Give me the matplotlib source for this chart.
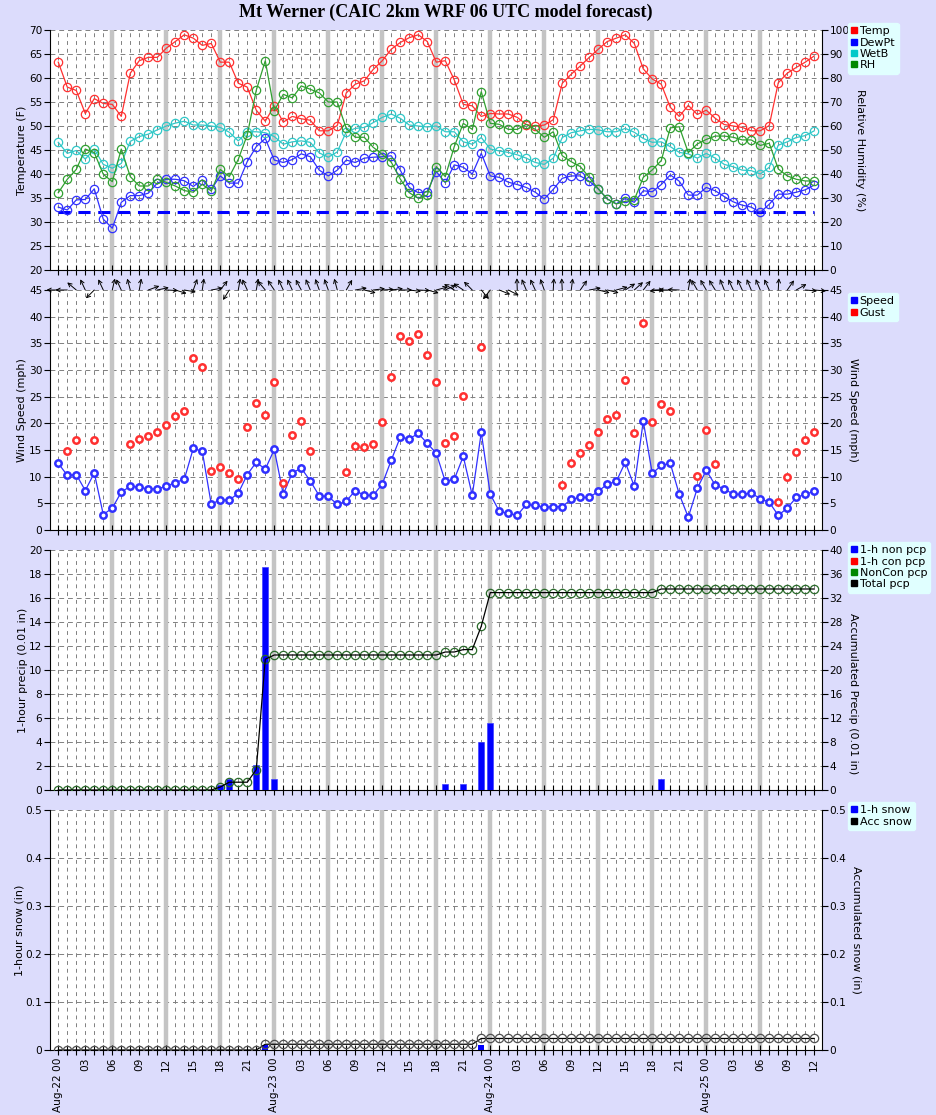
import matplotlib
matplotlib.use('Agg')
import matplotlib.pyplot as plt
from matplotlib.lines import Line2D
import numpy as np

plt.rcParams['font.family'] = ['DejaVu Sans']
plt.rcParams['font.size'] = 7.6

# forecast hours from Aug-22 00 UTC
hours = list(range(85))

temp = [63.3, 58.1, 57.4, 52.6, 55.7, 54.7, 54.5, 52.0, 61.0, 63.6,
        64.3, 64.3, 66.2, 67.6, 69.0, 68.3, 66.8, 67.2, 63.3, 63.3,
        58.9, 58.1, 53.3, 51.0, 54.2, 50.8, 52.0, 51.5, 51.2, 49.0,
        49.0, 50.1, 56.9, 58.7, 59.4, 61.8, 63.6, 66.0, 67.4, 68.4,
        69.0, 67.6, 63.3, 63.6, 59.6, 54.5, 54.2, 52.0, 52.6, 52.5,
        52.5, 51.8, 50.3, 50.0, 50.2, 51.3, 58.9, 60.8, 62.5, 64.3,
        66.0, 67.6, 68.3, 69.0, 67.2, 61.9, 59.8, 58.7, 53.9, 52.0,
        54.3, 52.4, 53.3, 51.6, 50.3, 50.0, 49.7, 49.0, 49.0, 50.1,
        59.0, 61.0, 62.2, 63.3, 64.6]
dewpt = [33.1, 32.5, 34.6, 34.7, 36.9, 30.6, 28.7, 34.1, 35.5, 35.5,
         36.0, 38.1, 38.9, 38.9, 38.6, 37.4, 38.8, 36.8, 39.6, 38.1,
         38.1, 42.6, 45.7, 47.4, 42.9, 42.4, 43.0, 44.2, 43.6, 40.8,
         39.6, 40.8, 42.9, 42.4, 43.3, 43.5, 43.6, 43.8, 40.8, 37.2,
         36.1, 36.3, 40.5, 38.2, 41.9, 41.4, 40.0, 44.3, 39.6, 39.3,
         38.3, 37.8, 37.2, 36.2, 34.8, 36.8, 39.1, 39.6, 39.6, 38.5,
         36.9, 34.8, 33.8, 34.9, 34.1, 36.5, 36.3, 37.8, 39.8, 38.5,
         35.6, 35.6, 37.2, 36.5, 35.3, 34.2, 33.5, 33.1, 32.0, 33.7,
         35.8, 35.8, 36.2, 36.7, 37.7]
wetb = [46.6, 44.3, 44.9, 43.1, 45.2, 42.0, 41.2, 42.2, 46.8, 47.8,
        48.3, 49.2, 50.0, 50.6, 51.0, 50.2, 50.2, 50.0, 49.7, 48.7,
        46.9, 48.8, 48.8, 48.6, 47.8, 46.2, 46.7, 46.9, 46.6, 44.4,
        43.5, 44.6, 48.8, 49.5, 49.7, 50.7, 51.8, 52.5, 51.6, 50.2,
        50.0, 49.8, 50.0, 48.8, 48.8, 46.7, 46.2, 47.6, 45.2, 44.8,
        44.5, 44.0, 43.3, 42.4, 42.0, 43.3, 47.6, 48.6, 49.0, 49.3,
        49.2, 48.8, 48.8, 49.5, 48.7, 47.4, 46.6, 46.7, 45.7, 44.5,
        44.2, 43.3, 44.3, 43.3, 42.0, 41.5, 40.8, 40.7, 40.0, 41.4,
        46.0, 46.7, 47.6, 48.0, 49.0]
rh = [32.2, 37.8, 41.9, 50.4, 48.9, 39.9, 36.8, 50.4, 38.9, 35.0,
      35.0, 37.9, 36.5, 35.0, 33.1, 32.4, 35.7, 32.9, 41.9, 38.9,
      46.1, 56.3, 74.9, 87.2, 66.4, 73.2, 71.7, 76.7, 75.3, 73.8,
      70.0, 70.0, 59.0, 55.3, 55.3, 51.1, 48.2, 44.9, 37.9, 32.2,
      29.9, 31.2, 43.1, 38.9, 51.4, 61.1, 58.6, 74.3, 61.1, 60.7,
      58.6, 58.6, 60.7, 58.6, 55.3, 57.6, 47.6, 45.1, 43.1, 38.6,
      33.8, 29.6, 27.5, 28.6, 29.2, 38.6, 41.7, 45.6, 59.2, 59.7,
      48.9, 52.5, 54.4, 55.8, 55.8, 55.3, 54.2, 54.2, 51.9, 52.8,
      42.1, 39.2, 37.8, 37.1, 37.1]
freezing = 32

speed = [12.5, 10.25, 10.4, 7.4, 10.7, 2.9, 4.1, 7.1, 8.2, 8.0,
         7.7, 7.7, 8.2, 8.9, 9.5, 15.3, 14.75, 4.8, 5.7, 5.6,
         6.9, 10.4, 12.7, 11.4, 15.1, 6.7, 10.7, 11.6, 9.2, 6.4,
         6.3, 4.8, 5.4, 7.4, 6.5, 6.5, 8.6, 13.1, 17.4, 17.1,
         18.1, 16.25, 14.4, 9.1, 9.5, 13.8, 6.5, 18.3, 6.7, 3.5,
         3.1, 2.75, 4.8, 4.6, 4.25, 4.4, 4.4, 5.75, 6.1, 6.1,
         7.25, 8.6, 9.1, 12.7, 8.2, 20.4, 10.6, 12.1, 12.5, 6.7,
         2.4, 7.8, 11.2, 8.4, 7.7, 6.7, 6.7, 6.9, 5.9, 5.2,
         2.75, 4.1, 6.1, 6.7, 7.25]
gust = [None, 14.75, 16.8, None, 16.8, None, None, None, 16.1, 17.0,
        17.7, 18.3, 19.6, 21.3, 22.4, 32.2, 30.5, 11.0, 11.75, 10.6,
        9.5, 19.25, 23.9, 21.5, 27.7, 8.75, 17.9, 20.4, 14.9, None,
        None, None, 10.8, 15.7, 15.5, 16.1, 20.2, 28.6, 36.3, 35.4,
        36.7, 32.75, 27.7, 16.4, 17.6, 25.1, None, 34.3, None, None,
        None, None, None, None, None, None, 8.4, 12.6, 14.4, 15.9,
        18.3, 20.75, 21.5, 28.1, 18.2, 38.75, 20.2, 23.6, 22.25, None,
        None, 10.2, 18.7, 12.3, None, None, None, None, None, None,
        5.2, 10.0, 14.6, 16.9, 18.3]
# wind direction (deg, direction the wind blows from)
wdir = [90, 90, 130, 155, 45, 155, 193, 155, 165, 190,
        250, 258, 273, 287, 280, 200, 188, 260, 218, 32,
        190, 155, 190, 140, 146, 155, 155, 152, 157, 160,
        160, 165, 210, 260, 284, 263, 267, 263, 270, 277,
        273, 285, 255, 245, 120, 124, 135, 320, 38, 292,
        297, 178, 157, 155, 160, 183, 177, 187, 215, 260,
        284, 284, 255, 237, 228, 218, 270, 85, 90, 92,
        190, 150, 150, 148, 158, 155, 155, 157, 157, 155,
        183, 215, 240, 275, 275]

# precipitation, 0.01 in
pcp_1h = [0.0] * 18 + [0.42, 0.9, 0, 0, 2.05, 18.55, 0.9] + [0] * 18 + \
         [0.47, 0, 0.47, 0, 4.0, 5.6] + [0] * 18 + [0.9] + [0] * 17
pcp_acc = [0.0] * 18 + [0.5, 1.3, 1.3, 1.3, 3.4, 21.8] + [22.5] * 19 + \
          [23.0, 23.0, 23.4, 23.4, 27.3] + [32.9] * 19 + [33.5] * 18

# snow, in
snow_1h = [0.0] * 23 + [0.0105] + [0.0] * 23 + [0.0105] + [0.0] * 37
snow_acc = [0.0] * 23 + [0.012] * 24 + [0.024] * 38

tick_hours = list(range(0, 85, 3))
tick_labels = ['Aug-%d 00' % (22 + h // 24) if h % 24 == 0 else '%02d' % (h % 24)
               for h in tick_hours]

BG = '#dcdcfc'
W, H = 937, 1115
fig = plt.figure(figsize=(W / 100, H / 100), dpi=100, facecolor=BG)

fig.text(446 / W, 1 - 12 / H, 'Mt Werner (CAIC 2km WRF 06 UTC model forecast)',
         ha='center', va='center', fontsize=13, fontweight='bold',
         family='Liberation Serif')

left, right = 50 / W, 822 / W
tops = [30, 290, 550, 810]
axes = []
for t in tops:
    ax = fig.add_axes([left, 1 - (t + 240) / H, right - left, 240 / H])
    axes.append(ax)


def style(ax, ylim, yticks, ylabel, ylim2, yticks2, ylabel2, bottom=False):
    ax.set_xlim(-0.92, 84.86)
    ax.set_ylim(*ylim)
    ax.set_yticks(yticks)
    ax.set_xticks(tick_hours)
    ax.set_xticks(hours, minor=True)
    ax.tick_params(axis='x', which='both', direction='inout', length=7, width=0.8, pad=2)
    ax.tick_params(axis='y', direction='out', length=4, width=0.8, pad=1.5)
    if bottom:
        ax.set_xticklabels(tick_labels, rotation=90, va='top')
    else:
        ax.set_xticklabels([])
    for h in hours:
        if h % 6 == 0 and 0 < h < 84:
            ax.axvline(h, color='#c4c4c4', lw=3.2, zorder=0.5)
        else:
            ax.axvline(h, color='#808080', lw=0.7, ls=(0, (4, 4)), zorder=0.4)
    for y in yticks:
        ax.axhline(y, color='#808080', lw=0.7, ls=(0, (5, 4)), zorder=0.4)
    for s in ['top', 'right']:
        ax.spines[s].set_visible(False)
    ax.set_ylabel(ylabel, labelpad=1, fontsize=8)
    ax2 = ax.twinx()
    ax2.set_ylim(*ylim2)
    ax2.set_yticks(yticks2)
    ax2.tick_params(axis='y', direction='out', length=4, width=0.8, pad=1.5)
    for s in ['top', 'left', 'bottom']:
        ax2.spines[s].set_visible(False)
    ax2.set_ylabel(ylabel2, rotation=270, labelpad=11, fontsize=8)
    return ax2


def legend(ax, items, top):
    handles = [Line2D([], [], marker='s', ls='', color=c, markersize=4.5) for c, _ in items]
    leg = ax.legend(handles, [l for _, l in items], loc='upper left',
                    bbox_to_anchor=(848 / W, 1 - top / H), bbox_transform=fig.transFigure,
                    borderaxespad=0, handlelength=0.5, handletextpad=0.25,
                    labelspacing=0.12, borderpad=0.3, fontsize=8,
                    facecolor='#e0ffff', edgecolor='#e0ffff', framealpha=1, fancybox=True)
    leg.set_zorder(10)


RED, BLUE, CYAN, GREEN = '#ff3030', '#3030ff', '#30c8c8', '#30a030'
mk = dict(marker='o', markersize=6, markerfacecolor='none', markeredgewidth=0.9, lw=0.9)

# panel 1: temperatures and RH
ax = axes[0]
ax2 = style(ax, (20, 70), range(20, 71, 5), 'Temperature (F)',
            (0, 100), range(0, 101, 10), 'Relative Humidity (%)')
ax.plot([0, 84], [freezing, freezing], color='#0000ff', lw=2.2, ls=(0, (4, 2.5)), zorder=2)
ax.plot(hours, wetb, color=CYAN, **mk, zorder=3)
ax.plot(hours, dewpt, color=BLUE, **mk, zorder=3)
ax.plot(hours, temp, color=RED, **mk, zorder=3)
ax2.plot(hours, rh, color=GREEN, **mk)
legend(ax2, [('#ff0000', 'Temp'), ('#0000ff', 'DewPt'), ('#00c8c8', 'WetB'),
             ('#008800', 'RH')], 23)

# panel 2: wind
ax = axes[1]
ax2 = style(ax, (0, 45), range(0, 46, 5), 'Wind Speed (mph)',
            (0, 45), range(0, 46, 5), 'Wind Speed (mph)')
wk = dict(marker='o', markersize=4.6, markerfacecolor='white', markeredgewidth=1.8)
ax.plot(hours, speed, color=BLUE, lw=0.9, zorder=3, **wk)
gx = [h for h, g in zip(hours, gust) if g is not None]
gy = [g for g in gust if g is not None]
ax.plot(gx, gy, ls='', color=RED, zorder=3, **wk)
L = 8.5
for h, d in zip(hours, wdir):
    a = np.deg2rad(270 - d)
    ax.annotate('', xy=(h, 45), xytext=(L * np.cos(a), L * np.sin(a)),
                textcoords='offset points', annotation_clip=False,
                arrowprops=dict(arrowstyle='<-,head_length=0.35,head_width=0.18',
                                color='black', lw=0.7, shrinkA=0, shrinkB=0))
legend(ax2, [('#0000ff', 'Speed'), ('#ff0000', 'Gust')], 293)

# panel 3: precipitation
ax = axes[2]
ax2 = style(ax, (0, 20), range(0, 21, 2), '1-hour precip (0.01 in)',
            (0, 40), range(0, 41, 4), 'Accumulated Precip (0.01 in)')
ax2.yaxis.label.set_y(0.4)
ax.bar(hours, pcp_1h, width=0.65, color='#0000ff', edgecolor='#4040ff', lw=0.5, zorder=3)
ax2.plot(hours, pcp_acc, color='#2a6a2a', marker='o', markersize=6,
         markerfacecolor='none', markeredgewidth=0.9, lw=0)
ax2.plot(hours, pcp_acc, color='black', lw=0.9)
legend(ax2, [('#0000ff', '1-h non pcp'), ('#ff0000', '1-h con pcp'),
             ('#008800', 'NonCon pcp'), ('black', 'Total pcp')], 542)

# panel 4: snow
ax = axes[3]
ax2 = style(ax, (0, 0.5), [0, 0.1, 0.2, 0.3, 0.4, 0.5], '1-hour snow (in)',
            (0, 0.5), [0, 0.1, 0.2, 0.3, 0.4, 0.5], 'Accumulated snow (in)', bottom=True)
ax.set_yticklabels(['0', '0.1', '0.2', '0.3', '0.4', '0.5'])
ax2.set_yticklabels(['0', '0.1', '0.2', '0.3', '0.4', '0.5'])
ax.bar(hours, snow_1h, width=0.65, color='#0000ff', zorder=3)
ax2.plot(hours, snow_acc, color='black', marker='o', markersize=6,
         markerfacecolor='none', markeredgecolor='#505050', markeredgewidth=0.9, lw=0.9)
legend(ax2, [('#0000ff', '1-h snow'), ('black', 'Acc snow')], 802)

fig.savefig('out.png', dpi=100, facecolor=BG)
